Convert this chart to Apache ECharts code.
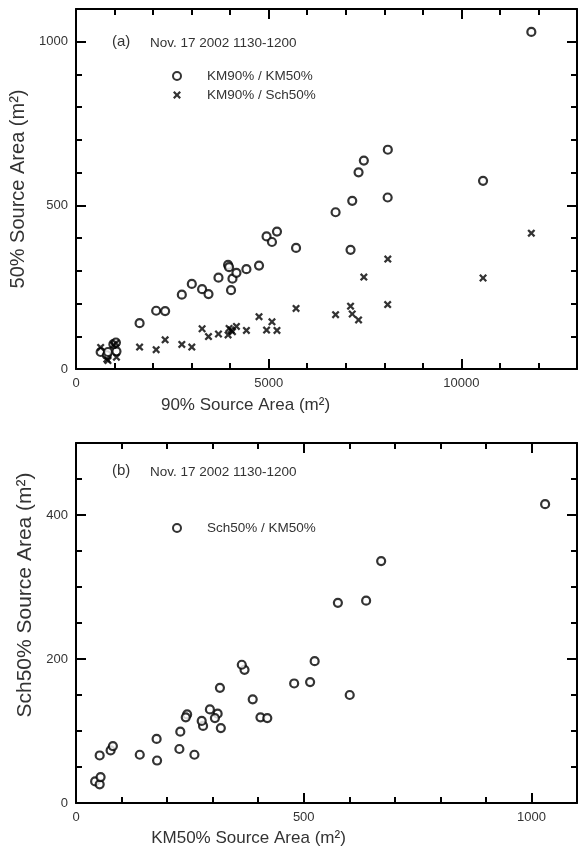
<!DOCTYPE html>
<html lang="en">
<head>
<meta charset="UTF-8">
<title>Source area comparison</title>
<script src="https://cdn.jsdelivr.net/npm/echarts@6.0.0/dist/echarts.min.js"></script>
<style>
  html, body { margin: 0; padding: 0; background: #fff; }
  #main { width: 578px; height: 848px; }
</style>
</head>
<body>
<div id="main"></div>
<script type="text/javascript">
  // one entry per run, Nov. 17 2002 1130-1200 (m2)
  var km90 = [640, 800, 830, 1050, 970, 1036, 1650, 2080, 2313, 2746, 3005, 3272, 3438, 3697, 3946, 3972, 4060,
              4163, 4023, 4422, 4749, 4945, 5085, 5215, 5710, 6736, 7168, 7332, 7469, 8091, 8087, 7124, 10562, 11815];
  var km50 = [52, 42, 52, 54, 76, 81, 140, 178, 177, 227, 260, 244, 229, 279, 318, 311, 276,
              294, 241, 305, 316, 405, 388, 420, 370, 479, 514, 601, 637, 670, 524, 364, 575, 1030];
  var sch50 = [66, 30, 26, 36, 73, 79, 67, 59, 89, 75, 67, 123, 99, 107, 104, 124, 114,
               130, 119, 118, 160, 119, 144, 118, 185, 166, 168, 150, 281, 336, 197, 192, 278, 415];

  var font = 'Arial, "Liberation Sans", sans-serif';
  var ink = '#000';
  var textColor = '#333';

  function pairs(xs, ys) {
    return xs.map(function (x, i) { return [x, ys[i]]; });
  }

  // one axis = one row of ticks; minor rows carry the box line, major rows the labels
  function tickAxis(grid, pos, max, step, len, line) {
    return {
      gridIndex: grid, type: 'value', position: pos,
      min: 0, max: max, interval: step,
      axisLine: { show: line, onZero: false, lineStyle: { color: ink, width: 2 } },
      axisTick: { show: true, inside: true, length: len, lineStyle: { color: ink, width: 2 } },
      axisLabel: { show: false },
      splitLine: { show: false },
      silent: true
    };
  }

  function labelled(ax, name, gap, size, pad) {
    ax.axisLabel = {
      show: true, showMaxLabel: false, margin: 8, fontSize: 13, fontFamily: font, color: textColor,
      formatter: function (v) { return String(v); }
    };
    ax.name = name;
    ax.nameLocation = 'middle';
    ax.nameGap = gap;
    ax.nameTextStyle = { fontSize: size, fontFamily: font, color: textColor, padding: pad };
    return ax;
  }

  var xAxes = [
    tickAxis(0, 'bottom', 13000, 1000, 6, true),
    labelled(tickAxis(0, 'bottom', 13000, 5000, 10, false), '90% Source Area (m²)', 28, 17, [0, 162, 0, 0]),
    tickAxis(0, 'top', 13000, 1000, 6, true),
    tickAxis(0, 'top', 13000, 5000, 10, false),
    tickAxis(1, 'bottom', 1100, 100, 6, true),
    labelled(tickAxis(1, 'bottom', 1100, 500, 10, false), 'KM50% Source Area (m²)', 27, 17, [0, 156, 0, 0]),
    tickAxis(1, 'top', 1100, 100, 6, true),
    tickAxis(1, 'top', 1100, 500, 10, false)
  ];

  var yAxes = [
    tickAxis(0, 'left', 1100, 100, 6, true),
    labelled(tickAxis(0, 'left', 1100, 500, 10, false), '50% Source Area (m²)', 33, 20, 0),
    tickAxis(0, 'right', 1100, 100, 6, true),
    tickAxis(0, 'right', 1100, 500, 10, false),
    tickAxis(1, 'left', 500, 50, 6, true),
    labelled(tickAxis(1, 'left', 500, 200, 10, false), 'Sch50% Source Area (m²)', 38, 21, [0, 0, 0, 56]),
    tickAxis(1, 'right', 500, 50, 6, true),
    tickAxis(1, 'right', 500, 200, 10, false)
  ];

  var cross = 'path://M0,2L2,0L5,3L8,0L10,2L7,5L10,8L8,10L5,7L2,10L0,8L3,5Z';
  var ring = { color: '#fff', borderColor: ink, borderWidth: 2.2 };
  var small = { fontSize: 13.5, fontWeight: 'normal', fontFamily: font, color: textColor };
  var big = { fontSize: 15, fontWeight: 'normal', fontFamily: font, color: textColor };

  var myChart = echarts.init(document.getElementById('main'));

  var option = {
    animation: false,
    backgroundColor: '#fff',
    title: [
      { text: '(a)', left: 112, top: 34, padding: 0, textStyle: big },
      { text: 'Nov. 17 2002 1130-1200', left: 150, top: 36, padding: 0, textStyle: small },
      { text: '(b)', left: 112, top: 463, padding: 0, textStyle: big },
      { text: 'Nov. 17 2002 1130-1200', left: 150, top: 465, padding: 0, textStyle: small }
    ],
    legend: [
      {
        data: ['KM90% / KM50%', 'KM90% / Sch50%'], orient: 'vertical', left: 172, top: 69, padding: 0,
        itemWidth: 50, itemHeight: 8, itemGap: 5, selectedMode: false,
        textStyle: { fontSize: 13.5, fontFamily: font, color: textColor }
      },
      {
        data: ['Sch50% / KM50%'], orient: 'vertical', left: 172, top: 521, padding: 0,
        itemWidth: 50, itemHeight: 8, itemGap: 5, selectedMode: false,
        textStyle: { fontSize: 13.5, fontFamily: font, color: textColor }
      }
    ],
    grid: [
      { left: 76, top: 9, width: 501, height: 360, outerBoundsMode: 'none' },
      { left: 76, top: 443, width: 501, height: 360, outerBoundsMode: 'none' }
    ],
    xAxis: xAxes,
    yAxis: yAxes,
    series: [
      {
        name: 'KM90% / KM50%', type: 'scatter', xAxisIndex: 0, yAxisIndex: 0,
        symbol: 'circle', symbolSize: 8, itemStyle: ring,
        data: pairs(km90, km50), silent: true
      },
      {
        name: 'KM90% / Sch50%', type: 'scatter', xAxisIndex: 0, yAxisIndex: 0,
        symbol: cross, symbolSize: 8, itemStyle: { color: ink },
        data: pairs(km90, sch50), silent: true
      },
      {
        name: 'Sch50% / KM50%', type: 'scatter', xAxisIndex: 4, yAxisIndex: 4,
        symbol: 'circle', symbolSize: 8, itemStyle: ring,
        data: pairs(km50, sch50), silent: true
      }
    ]
  };

  myChart.setOption(option);
</script>
</body>
</html>
